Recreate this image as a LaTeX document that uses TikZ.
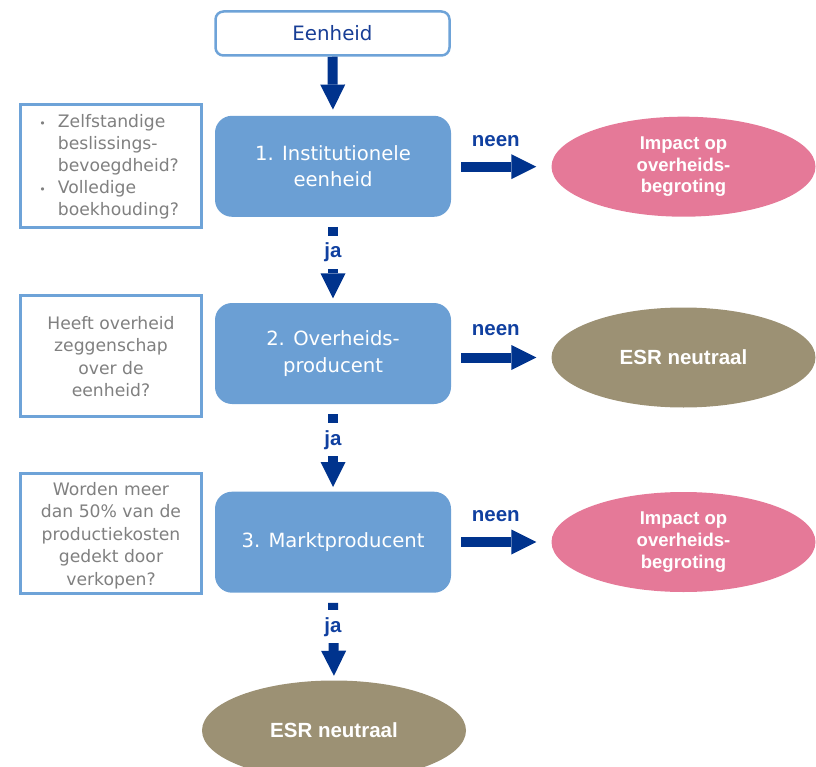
\documentclass[tikz,border=0pt]{standalone}
\usepackage{fontspec}
\setmainfont{DejaVu Sans}
\newfontfamily\boldfam{Liberation Sans}
\usetikzlibrary{arrows.meta,shapes.geometric,calc}

\definecolor{boxblue}{RGB}{107,159,212}
\definecolor{lineblue}{RGB}{110,163,216}
\definecolor{navy}{RGB}{0,51,141}
\definecolor{labelblue}{RGB}{16,64,160}
\definecolor{titleblue}{RGB}{24,62,150}
\definecolor{pinkfill}{RGB}{229,121,152}
\definecolor{olivefill}{RGB}{156,145,116}
\definecolor{qgray}{RGB}{128,128,128}

\tikzset{
  startbox/.style={draw=lineblue, line width=2.5pt, fill=white, rounded corners=8pt,
    minimum width=234pt, minimum height=44pt, inner sep=0pt,
    text=titleblue, font=\fontsize{19.8}{24}\selectfont},
  stepbox/.style={fill=boxblue, rounded corners=17pt, minimum width=236pt,
    minimum height=101pt, inner sep=0pt, text=white, align=center,
    font=\fontsize{19.6}{26.5}\selectfont},
  questionbox/.style={draw=lineblue, line width=2.5pt, fill=white,
    minimum width=181pt, inner sep=0pt},
  questiontext/.style={text=qgray, inner sep=0pt,
    font=\fontsize{17.2}{22.2}\selectfont},
  outcome/.style={ellipse, minimum width=264pt, minimum height=100pt, inner sep=0pt,
    text=white, align=center, font=\boldfam\bfseries\fontsize{18.5}{21.7}\selectfont},
  impact/.style={outcome, fill=pinkfill},
  neutral/.style={outcome, fill=olivefill, font=\boldfam\bfseries\fontsize{20.5}{24}\selectfont},
  blockarrow/.style={draw=navy, line width=10pt,
    -{Triangle[width=25pt,length=25pt,line width=0pt]}},
  answer/.style={text=labelblue, inner sep=0pt,
    font=\boldfam\bfseries\fontsize{20.5}{24}\selectfont},
  yeslabel/.style={answer, fill=white, minimum width=26pt, minimum height=33pt}
}

\begin{document}
\begin{tikzpicture}[x=1pt,y=-1pt]
\useasboundingbox (0,0) rectangle (816,767);

% central column
\node[startbox] (start) at (332.5,33.5) {Eenheid};
\node[stepbox] (s1) at (333,166.3) {1. Institutionele\\eenheid};
\node[stepbox] (s2) at (333,353.5) {2. Overheids-\\producent};
\node[stepbox] (s3) at (333,542.2) {3. Marktproducent};

% questions on the left
\node[questionbox, minimum height=123pt] (q1) at (111,166.2) {};
\node[questiontext, anchor=west, align=left] (q1t) at (57.7,166.7)
  {\llap{{\fontsize{11}{11}\selectfont •}\hspace{12pt}}Zelfstandige\\
   beslissings-\\
   bevoegdheid?\\
   \llap{{\fontsize{11}{11}\selectfont •}\hspace{12pt}}Volledige\\
   boekhouding?};
\node[questionbox, minimum height=121pt] (q2) at (111,356) {};
\node[questiontext, align=center] (q2t) at (111,356.5)
  {Heeft overheid\\zeggenschap\\over de\\eenheid?};
\node[questionbox, minimum height=120pt] (q3) at (111,533.7) {};
\node[questiontext, align=center, font=\fontsize{17.2}{22.5}\selectfont] (q3t) at (111,535.5)
  {Worden meer\\dan 50\% van de\\productiekosten\\gedekt door\\verkopen?};

% outcomes
\node[impact] (o1) at (683.5,166.7) {Impact op\\overheids-\\begroting};
\node[neutral] (o2) at (683.5,357.5) {ESR neutraal};
\node[impact] (o3) at (683.5,542) {Impact op\\overheids-\\begroting};
\node[neutral] (o4) at (334,730.5) {ESR neutraal};

% downward flow
\draw[blockarrow, shorten >=6pt] (start.south) -- (s1.north);
\draw[blockarrow, shorten <=10pt, shorten >=4.5pt] (s1.south) -- (s2.north);
\draw[blockarrow, shorten <=10pt, shorten >=4.5pt] (s2.south) -- (s3.north);
\draw[blockarrow, shorten <=10pt, shorten >=4.5pt] (s3.south) -- (o4.north);
\node[yeslabel] (ja1) at ([yshift=-35.5pt]s1.south) {ja};
\node[yeslabel] (ja2) at ([yshift=-35.5pt]s2.south) {ja};
\node[yeslabel] (ja3) at ([yshift=-34pt]s3.south) {ja};

% sideways exits
\draw[blockarrow, shorten <=10pt, shorten >=15pt] (s1.east |- o1.west) -- (o1.west)
  coordinate[pos=0.5] (m1);
\draw[blockarrow, shorten <=10pt, shorten >=15pt] (s2.east |- o2.west) -- (o2.west)
  coordinate[pos=0.5] (m2);
\draw[blockarrow, shorten <=10pt, shorten >=15pt] (s3.east |- o3.west) -- (o3.west)
  coordinate[pos=0.5] (m3);
\node[answer] (nee1) at ([xshift=-5.5pt, yshift=26pt]m1) {neen};
\node[answer] (nee2) at ([xshift=-5.5pt, yshift=27pt]m2) {neen};
\node[answer] (nee3) at ([xshift=-5.5pt, yshift=26pt]m3) {neen};
\end{tikzpicture}
\end{document}
